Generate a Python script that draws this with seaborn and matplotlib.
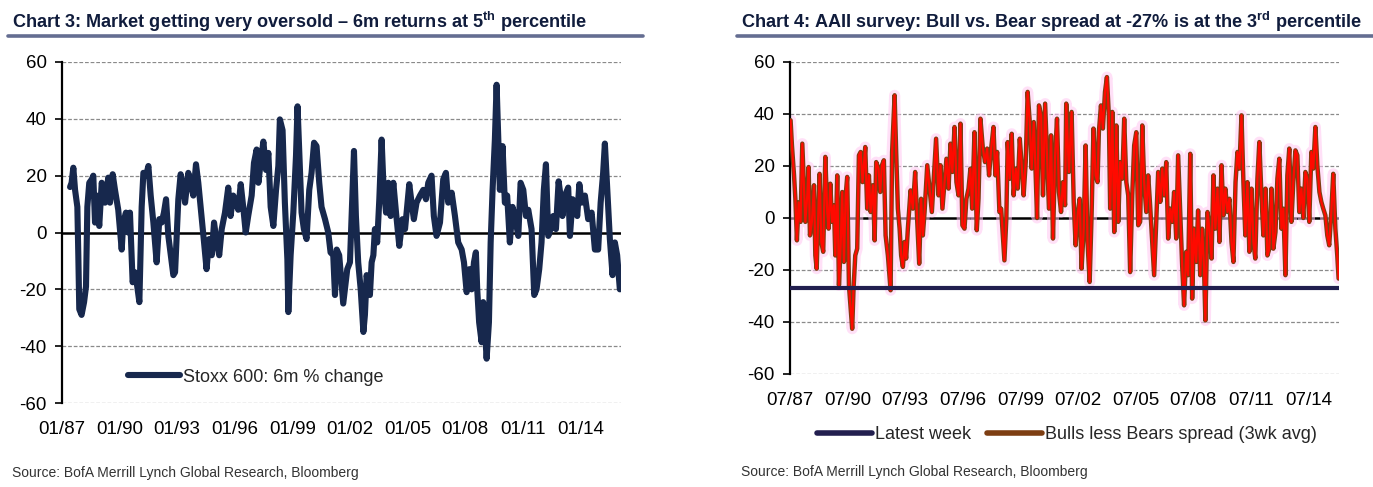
import numpy as np
import pandas as pd
import matplotlib
matplotlib.use("Agg")
import matplotlib.pyplot as plt
from matplotlib.lines import Line2D
import seaborn as sns

# Chart 3: Stoxx 600 6m % change (decimal year, %)
stoxx_dates = [
    1987.42, 1987.50, 1987.59, 1987.68, 1987.80, 1987.85, 1987.90, 1988.02, 1988.15, 1988.25,
    1988.32, 1988.42, 1988.55, 1988.63, 1988.72, 1988.81, 1988.94, 1989.07, 1989.15, 1989.24,
    1989.41, 1989.50, 1989.64, 1989.76, 1989.93, 1990.11, 1990.19, 1990.33, 1990.45, 1990.54,
    1990.68, 1990.80, 1990.92, 1991.03, 1991.15, 1991.24, 1991.38, 1991.50, 1991.62, 1991.76,
    1991.93, 1992.07, 1992.19, 1992.31, 1992.42, 1992.54, 1992.63, 1992.80, 1992.89, 1993.06,
    1993.18, 1993.28, 1993.41, 1993.58, 1993.70, 1993.84, 1993.98, 1994.10, 1994.27, 1994.40,
    1994.53, 1994.67, 1994.80, 1994.92, 1995.06, 1995.19, 1995.32, 1995.49, 1995.66, 1995.78,
    1995.92, 1996.06, 1996.18, 1996.31, 1996.44, 1996.57, 1996.70, 1996.88, 1997.00, 1997.14,
    1997.23, 1997.35, 1997.49, 1997.63, 1997.75, 1997.87, 1998.01, 1998.15, 1998.27, 1998.35,
    1998.49, 1998.61, 1998.74, 1998.79, 1998.91, 1999.05, 1999.19, 1999.27, 1999.40, 1999.48,
    1999.60, 1999.74, 1999.88, 2000.00, 2000.13, 2000.26, 2000.40, 2000.52, 2000.70, 2000.87,
    2000.99, 2001.13, 2001.22, 2001.31, 2001.44, 2001.65, 2001.86, 2002.00, 2002.14, 2002.21,
    2002.31, 2002.43, 2002.56, 2002.70, 2002.78, 2002.87, 2003.04, 2003.13, 2003.22, 2003.30,
    2003.42, 2003.53, 2003.65, 2003.74, 2003.88, 2004.00, 2004.12, 2004.26, 2004.40, 2004.57,
    2004.74, 2004.87, 2005.09, 2005.21, 2005.33, 2005.47, 2005.65, 2005.82, 2005.96, 2006.08,
    2006.25, 2006.37, 2006.51, 2006.69, 2006.86, 2007.00, 2007.12, 2007.30, 2007.47, 2007.64,
    2007.82, 2007.94, 2008.08, 2008.22, 2008.34, 2008.46, 2008.56, 2008.63, 2008.73, 2008.86,
    2008.94, 2009.03, 2009.12, 2009.24, 2009.33, 2009.43, 2009.55, 2009.64, 2009.72, 2009.81,
    2009.95, 2010.07, 2010.19, 2010.33, 2010.47, 2010.59, 2010.77, 2010.89, 2011.03, 2011.17,
    2011.29, 2011.46, 2011.60, 2011.72, 2011.86, 2011.98, 2012.10, 2012.21, 2012.33, 2012.45,
    2012.59, 2012.73, 2012.87, 2012.97, 2013.07, 2013.20, 2013.37, 2013.46, 2013.60, 2013.72,
    2013.84, 2013.95, 2014.07, 2014.24, 2014.41, 2014.59, 2014.76, 2014.93, 2015.06, 2015.19,
    2015.28, 2015.36, 2015.45, 2015.54, 2015.68, 2015.80, 2015.92, 2016.06,
]
stoxx_change = [
    16, 17.5, 22.8, 15, 9, -8, -27, -29, -24.5, -19,
    9, 17.5, 18.7, 20, 3.5, 13, 2.3, 17.5, 15, 10.5,
    19.3, 10.5, 20.5, 15, 8, -6, 3.5, 7, 0, 7,
    -17.5, -14, -19, -24.5, 9, 21, 20, 23.4, 13, 3.5,
    -10.5, 4.7, 3.5, 7, 11.7, -1.2, -6, -15, -14, 11.7,
    20.5, 17.5, 10.5, 21, 17.5, 13, 24, 17.5, 5.8, -3.5,
    -12.9, -2.3, -8, 3.5, -3.5, -8, 1.2, 7, 15.8, 5.8,
    13, 10.5, 8, 17, 9, 0, 5.8, 13, 24.5, 29.2,
    17.5, 24.5, 32, 22, 28, 9, 2.3, 15, 23.4, 39.8,
    36, 10.5, -9.4, -28, -8, 7, 27, 44.4, 21, 7,
    1.2, -2.3, 15, 21, 31.6, 30.4, 17.5, 9, 4.7, 0,
    -7, -8, -22, -6, -8, -25, -12.9, -10.5, 15, 28.7,
    5.8, -10.5, -20, -35, -29, -15, -22, -10.5, -8, 1.2,
    -3.5, 11.7, 32.7, 17.5, 7, 17.5, 5.8, 17.5, 7, -4.7,
    4.7, 1.2, 17, 10.5, 4.7, 10.5, 13, 15, 11.7, 17.5,
    20, 5.8, -1.2, 3.5, 18.7, 21, 10.5, 14, 5.8, -3.5,
    -6, -10.5, -21, -12.9, -20, -10.5, -7, -20, -31.6, -38.6,
    -24.5, -34, -44.4, -31.6, -3.5, 15, 32.7, 52, 35, 15,
    30.4, 10.5, 13, -3.5, 9, 5.8, -1.2, 17.5, 15, 5.8,
    8, 1.2, -22, -20, -12.9, -3.5, 15, 24, -1.2, 1.2,
    5.8, 1.2, 18, 13, 5.8, 13, 15.8, -1.2, 11.7, 10.5,
    5.8, 17, 10.5, 13, 4.7, 7, -6, -6, 10.5, 21,
    31.3, 21, 9, -2.3, -15, -3.5, -8, -20,
]

# Chart 4: AAII bulls less bears spread, 3wk avg (decimal year, %)
aaii_dates = [
    1987.53, 1987.60, 1987.71, 1987.78, 1987.86, 1987.95, 1988.05, 1988.14, 1988.23, 1988.30,
    1988.40, 1988.47, 1988.54, 1988.64, 1988.75, 1988.82, 1988.89, 1988.96, 1989.04, 1989.13,
    1989.23, 1989.34, 1989.44, 1989.51, 1989.60, 1989.69, 1989.79, 1989.86, 1989.96, 1990.05,
    1990.14, 1990.22, 1990.31, 1990.40, 1990.48, 1990.57, 1990.66, 1990.74, 1990.81, 1990.90,
    1991.00, 1991.09, 1991.18, 1991.28, 1991.42, 1991.52, 1991.61, 1991.70, 1991.82, 1991.91,
    1991.99, 1992.11, 1992.20, 1992.29, 1992.39, 1992.48, 1992.60, 1992.74, 1992.82, 1992.95,
    1993.03, 1993.12, 1993.21, 1993.29, 1993.38, 1993.47, 1993.55, 1993.64, 1993.78, 1993.90,
    1994.02, 1994.13, 1994.23, 1994.33, 1994.42, 1994.51, 1994.65, 1994.77, 1994.89, 1994.99,
    1995.11, 1995.24, 1995.34, 1995.44, 1995.55, 1995.65, 1995.76, 1995.86, 1995.96, 1996.07,
    1996.17, 1996.28, 1996.38, 1996.48, 1996.59, 1996.69, 1996.80, 1996.90, 1996.99, 1997.11,
    1997.23, 1997.32, 1997.42, 1997.54, 1997.66, 1997.77, 1997.87, 1997.98, 1998.10, 1998.20,
    1998.29, 1998.41, 1998.50, 1998.58, 1998.67, 1998.77, 1998.84, 1998.95, 1999.05, 1999.15,
    1999.26, 1999.36, 1999.47, 1999.57, 1999.67, 1999.78, 1999.88, 1999.99, 2000.09, 2000.20,
    2000.30, 2000.37, 2000.47, 2000.58, 2000.68, 2000.79, 2000.89, 2000.99, 2001.10, 2001.20,
    2001.31, 2001.41, 2001.51, 2001.62, 2001.72, 2001.83, 2001.89, 2002.03, 2002.17, 2002.28,
    2002.38, 2002.50, 2002.59, 2002.69, 2002.80, 2002.90, 2003.00, 2003.11, 2003.21, 2003.31,
    2003.42, 2003.52, 2003.59, 2003.70, 2003.80, 2003.91, 2004.01, 2004.11, 2004.18, 2004.29,
    2004.39, 2004.50, 2004.60, 2004.70, 2004.81, 2004.91, 2005.02, 2005.12, 2005.22, 2005.33,
    2005.43, 2005.54, 2005.64, 2005.74, 2005.85, 2005.95, 2006.06, 2006.16, 2006.26, 2006.37,
    2006.47, 2006.58, 2006.68, 2006.79, 2006.89, 2006.99, 2007.10, 2007.20, 2007.31, 2007.41,
    2007.51, 2007.62, 2007.72, 2007.83, 2007.93, 2008.03, 2008.14, 2008.24, 2008.35, 2008.45,
    2008.55, 2008.66, 2008.76, 2008.87, 2008.97, 2009.07, 2009.14, 2009.25, 2009.35, 2009.46,
    2009.56, 2009.66, 2009.77, 2009.87, 2009.98, 2010.08, 2010.18, 2010.29, 2010.39, 2010.50,
    2010.60, 2010.71, 2010.81, 2010.91, 2011.02, 2011.12, 2011.22, 2011.33, 2011.43, 2011.54,
    2011.64, 2011.74, 2011.85, 2011.95, 2012.06, 2012.16, 2012.27, 2012.37, 2012.47, 2012.58,
    2012.68, 2012.79, 2012.89, 2012.99, 2013.10, 2013.20, 2013.31, 2013.41, 2013.51, 2013.62,
    2013.72, 2013.83, 2013.93, 2014.03, 2014.14, 2014.24, 2014.35, 2014.45, 2014.55, 2014.66,
    2014.76, 2014.87, 2014.97, 2015.08, 2015.18, 2015.28, 2015.39, 2015.49, 2015.59, 2015.70,
    2015.80, 2015.91, 2016.01, 2016.08,
]
aaii_spread = [
    37.6, 28, 16.4, 7.4, -8.6, 6, -1.5, 28.6, 11.3, -1.5,
    8.7, 19.6, -6.7, -1.5, 12.6, -14.4, -19.5, -1.5, 17, -9.2,
    -13, 23.5, 2.3, -4.1, 13.2, -1.5, 4.9, -14.4, 16.4, -25.9,
    -10.5, 10, -16.9, 8.7, 15.8, -25.9, -34.9, -42.6, -27.2, -14.4,
    -11.8, 24.1, 25.4, 13.8, 27.3, 3.6, 16.4, 2.3, 12.6, -8.6,
    21.5, 19, 10, 20.3, 22.2, -6.7, -14.4, -27.8, 25.4, 47.2,
    25.4, 3.6, -4.1, -14.4, -18.8, -9.2, -15.6, -4.1, 10.6, 3.6,
    17.7, -1.5, -17.6, 7.4, -6.7, 2.3, 20.3, 11.3, 2.3, 15.1,
    30.5, 8.7, 20.3, 3.6, 13.8, 22.8, 11.3, 28.6, 17.7, 35,
    13.8, 8.7, 36.3, -2.8, -4.1, 7.4, 11.3, 19, 3.6, 33,
    -4.7, 7.4, 38.2, 27.3, 21.5, 26.7, 16.4, 26.7, 35, 16.4,
    25.4, 2.3, 3.6, -6, -16.3, 0, 29.2, 15.1, 32.4, 8.7,
    19, 11.3, 30.5, 20.3, 8.7, 21.5, 48.5, 36.9, 19, 36.9,
    16.4, 0, 43.3, 39.5, 8.7, 44, 24.1, 3.6, 31.8, -7.9,
    24.1, 38.2, 10, 2.3, 13.8, 4.9, 44, 17.7, 40.8, 6.2,
    -10.5, 2.3, 7.4, -19.5, -4.1, 27.9, -9.2, -24.6, 1, 34.4,
    16.4, 13.8, 33, 43.3, 34.4, 48.5, 54.2, 39.5, 3.6, 40.8,
    -5.4, 35.6, -1.5, 21.5, 15.1, 38.2, 13.8, 8.7, -20.8, 8.7,
    27.9, 33, -2.8, -1.5, 35.6, 13.8, 2.3, 16.4, 4.9, -9.2,
    -22, -1.5, 17.7, 6.2, 19, 8.7, 21.5, -7.9, 3.6, -1.5,
    10, -7.9, 24.1, 2.3, -18.2, -33.6, -13, -22, 24.7, -31,
    -4.1, -16.9, 2.9, -22, -4.1, -19.5, -39.4, 2.3, -4.1, -15.6,
    16.4, -4.1, 11.3, -9.2, 20.3, 1, 11.3, 2.3, 7.4, -9.2,
    -16.9, 13.8, 25.4, 19, 39.5, 13.8, -6.7, 13.8, -13, 11.3,
    -9.2, -15.6, 15.1, 29.2, 8.7, -6.7, 11.3, -14.4, -11.8, 11.3,
    -11.8, -5.4, 15.1, 22.8, -4.1, 3.6, -22, 16.4, 26.7, -1.5,
    13.8, 26, 24.1, 2.3, 11.3, 0, 17.7, 15.1, -1.5, 25.4,
    19, 35, 20.3, 10, 6.2, 3.6, 1, -6.7, -10.5, 2.3,
    17, -4.1, -14.4, -23.3,
]
latest_week = -27

y_ticks = [-60, -40, -20, 0, 20, 40, 60]
left_ticks = [1987, 1990, 1993, 1996, 1999, 2002, 2005, 2008, 2011, 2014]
left_labels = ["01/87", "01/90", "01/93", "01/96", "01/99", "01/02", "01/05", "01/08", "01/11", "01/14"]
right_ticks = [1987.5, 1990.5, 1993.5, 1996.5, 1999.5, 2002.5, 2005.5, 2008.5, 2011.5, 2014.5]
right_labels = ["07/87", "07/90", "07/93", "07/96", "07/99", "07/02", "07/05", "07/08", "07/11", "07/14"]

NAVY = "#17284d"
DARK = "#221f4f"
BROWN = "#7d3e12"
RED = "#ff0a00"
PINK = "#ffc8f2"

sns.set_style("white")
plt.rcParams["font.family"] = ["Liberation Sans", "DejaVu Sans"]
plt.rcParams["mathtext.fontset"] = "custom"
plt.rcParams["mathtext.rm"] = "Liberation Sans:bold"

stoxx = pd.DataFrame({"date": stoxx_dates, "chg": stoxx_change})
aaii = pd.DataFrame({"date": aaii_dates, "spread": aaii_spread})

fig = plt.figure(figsize=(13.73, 4.87), dpi=100)
ax1 = fig.add_axes([62 / 1373, 1 - 403 / 487, 559 / 1373, 341 / 487])
ax2 = fig.add_axes([790 / 1373, 1 - 374 / 487, 549 / 1373, 312 / 487])

TICK_SIZE = 13.5


def style_axis(ax, ticks, labels, xlim):
    ax.set_xlim(*xlim)
    ax.set_ylim(-60, 60)
    ax.set_yticks(y_ticks)
    ax.set_yticklabels([str(v) for v in y_ticks])
    ax.set_xticks(ticks)
    ax.set_xticklabels(labels)
    for v in y_ticks:
        if v != 0:
            ax.axhline(v, color="#8a8a8a", lw=0.9, ls=(0, (3, 1.5)), zorder=0)
    ax.axhline(0, color="black", lw=1.8, zorder=1)
    for s in ["top", "right", "bottom"]:
        ax.spines[s].set_visible(False)
    ax.spines["left"].set_color("black")
    ax.spines["left"].set_linewidth(1.6)
    ax.tick_params(axis="y", left=True, length=5, width=1.2, pad=6, labelsize=TICK_SIZE, colors="black")
    ax.tick_params(axis="x", bottom=False, length=0, pad=13, labelsize=TICK_SIZE, colors="black")
    ax.set_xlabel("")
    ax.set_ylabel("")


# left panel
sns.lineplot(data=stoxx, x="date", y="chg", ax=ax1, color=NAVY, lw=4.4,
             label="Stoxx 600: 6m % change", zorder=3)
style_axis(ax1, left_ticks, left_labels, (1987.0, 2016.12))
ax1.legend(loc="lower left", bbox_to_anchor=(0.105, 0.03), frameon=False,
           fontsize=13, handlelength=2.9, handletextpad=0.15, borderaxespad=0)

# right panel
ax2.plot(aaii["date"], aaii["spread"], color=PINK, lw=8, alpha=0.55, zorder=2,
         solid_joinstyle="round")
sns.lineplot(data=aaii, x="date", y="spread", ax=ax2, color=BROWN, lw=3.2, zorder=3,
             label="Bulls less Bears spread (3wk avg)")
ax2.plot(aaii["date"], aaii["spread"], color=RED, lw=1.6, zorder=4)
ax2.axhline(latest_week, color=DARK, lw=3, zorder=5, label="Latest week")
style_axis(ax2, right_ticks, right_labels, (1987.5, 2016.1))
handles, labels = ax2.get_legend_handles_labels()
order = [labels.index("Latest week"), labels.index("Bulls less Bears spread (3wk avg)")]
leg_handles = [Line2D([0], [0], color=DARK, lw=4), Line2D([0], [0], color=BROWN, lw=4)]
ax2.legend(leg_handles, [labels[i] for i in order], loc="upper center",
           bbox_to_anchor=(0.505, -0.145), ncol=2, frameon=False, fontsize=13,
           handlelength=3.0, handletextpad=0.2, columnspacing=0.9, borderaxespad=0)

# titles, rules and sources
title_kw = dict(fontsize=13.1, fontweight="bold", color="#101c3c", va="center", ha="left")
fig.text(12 / 1373, 1 - 22 / 487,
         "Chart 3: Market getting very oversold \u2013 6m returns at 5$^{\\mathrm{th}}$ percentile",
         **title_kw)
fig.text(741 / 1373, 1 - 22 / 487,
         "Chart 4: AAII survey: Bull vs. Bear spread at -27% is at the 3$^{\\mathrm{rd}}$ percentile",
         **title_kw)
fig.add_artist(Line2D([8 / 1373, 643 / 1373], [1 - 36 / 487] * 2, color="#646d91", lw=2.6))
fig.add_artist(Line2D([737 / 1373, 1373 / 1373], [1 - 36 / 487] * 2, color="#646d91", lw=2.6))

src_kw = dict(fontsize=10, color="#333333", va="center", ha="left")
fig.text(12 / 1373, 1 - 473 / 487, "Source: BofA Merrill Lynch Global Research, Bloomberg", **src_kw)
fig.text(741 / 1373, 1 - 472 / 487, "Source: BofA Merrill Lynch Global Research, Bloomberg", **src_kw)

fig.savefig("out.png", dpi=100, facecolor="white")
